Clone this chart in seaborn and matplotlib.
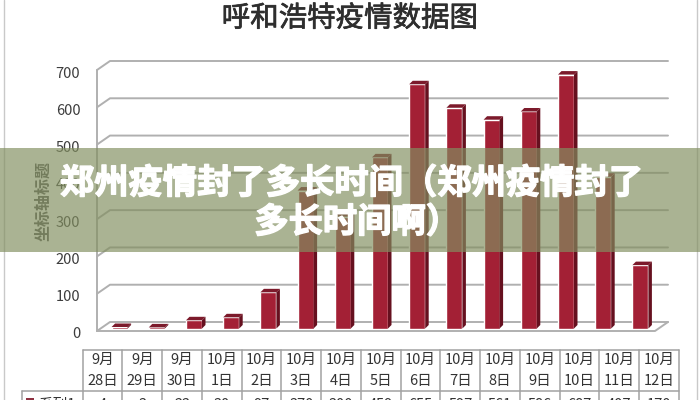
import matplotlib
matplotlib.use('Agg')
import matplotlib.pyplot as plt
import matplotlib.patheffects as pe
import seaborn as sns
from matplotlib.patches import Polygon, Rectangle
from matplotlib.transforms import ScaledTranslation

# values
dates = ['9月\n28日', '9月\n29日', '9月\n30日', '10月\n1日', '10月\n2日', '10月\n3日', '10月\n4日', '10月\n5日',
         '10月\n6日', '10月\n7日', '10月\n8日', '10月\n9日', '10月\n10日', '10月\n11日', '10月\n12日']
cases = [4, 3, 22, 30, 97, 370, 300, 459, 655, 592, 560, 582, 681, 407, 170]
table_values = ['4', '3', '22', '30', '97', '370', '300', '459', '655', '597', '561', '586', '687', '407', '170']
y_ticks = [0, 100, 200, 300, 400, 500, 600, 700]
series_name = '系列1'
chart_title = '呼和浩特疫情数据图'
y_title = '坐标轴标题'
banner_lines = ['郑州疫情封了多长时间（郑州疫情封了', '多长时间啊）']

W, H = 700, 400
CJK = ['Noto Sans CJK SC', 'DejaVu Sans']
RED, RED_SIDE, RED_TOP = '#a32035', '#66101f', '#7c1a2b'
GRID = '#b0b0b0'

sns.set_theme(style='white')
plt.rcParams['font.family'] = CJK

fig = plt.figure(figsize=(7, 4), dpi=100, facecolor='white')


def px_axes(left, right, top, bottom):
    return fig.add_axes([left / W, 1 - bottom / H, (right - left) / W, (bottom - top) / H])


# front plane of the 3d box, holds tick labels
ax = px_axes(97, 655, 70, 331)
ax.set_xlim(-0.5, 14.5)
ax.set_ylim(0, 700)
ax.patch.set_alpha(0)
ax.set_xticks([])
ax.set_yticks(y_ticks)
ax.tick_params(axis='y', length=0, pad=12, labelsize=10.5, labelcolor='#3d3d3d')
for lab in ax.get_yticklabels():
    lab.set_transform(lab.get_transform() + ScaledTranslation(0, -2 / 100, fig.dpi_scale_trans))
sns.despine(ax=ax, top=True, right=True, bottom=True, left=True)

x_per_px = 15 / 558
y_per_px = 700 / 261
dx, dy = 13 * x_per_px, 9 * y_per_px

# back wall gridlines with the slanted bit on the left, floor outline
for t in y_ticks:
    ax.plot([-0.5, -0.5 + dx, 14.5 + dx], [t, t + dy, t + dy], color=GRID, lw=1.4, clip_on=False, zorder=1)
ax.plot([-0.5, -0.5], [0, 700], color=GRID, lw=1.4, clip_on=False, zorder=1)
ax.plot([-0.5, 14.5, 14.5 + dx], [0, 0, dy], color=GRID, lw=1.4, clip_on=False, zorder=1)

# bars sit half way into the floor
ax_bar = px_axes(101, 659, 67.5, 328.5)
ax_bar.set_facecolor('none')
sns.barplot(x=list(range(len(cases))), y=cases, color=RED, saturation=1, width=0.43, ax=ax_bar, zorder=3)
ax_bar.set_xlim(-0.5, 14.5)
ax_bar.set_ylim(0, 700)
ax_bar.axis('off')

sx, sy = 3.5 * x_per_px, 3.5 * y_per_px
for bar in list(ax_bar.patches):
    x0, w, h = bar.get_x(), bar.get_width(), bar.get_height()
    ax_bar.add_patch(Polygon([(x0 + w, 0), (x0 + w + sx, sy), (x0 + w + sx, h + sy), (x0 + w, h)],
                             fc=RED_SIDE, ec='none', clip_on=False, zorder=3))
    ax_bar.add_patch(Polygon([(x0, h), (x0 + sx, h + sy), (x0 + w + sx, h + sy), (x0 + w, h)],
                             fc=RED_TOP, ec='none', clip_on=False, zorder=3))

# everything else in picture pixels
over = fig.add_axes([0, 0, 1, 1])
over.set_xlim(0, W)
over.set_ylim(H, 0)
over.axis('off')
over.patch.set_alpha(0)

over.text(350, 18.5, chart_title, ha='center', va='center', fontsize=20.5, color='#2e2e2e',
          path_effects=[pe.withStroke(linewidth=0.5, foreground='#2e2e2e')])
over.text(43, 201, y_title, rotation=90, ha='center', va='center', fontsize=11.5, color='#555555', weight='bold')

# outer frame of the screenshot
for x in (4, 696.5):
    over.plot([x, x], [0, H], color='#c9c9c9', lw=1)

# data table below the chart
left, col_w = 82.7, 39.75
top, mid, bottom = 350, 391, 412
right = left + col_w * len(dates)
tbl = '#a2a2a2'
over.plot([left, right], [top, top], color=tbl, lw=1.1)
over.plot([22, right], [mid, mid], color=tbl, lw=1.1)
over.plot([22, 22], [mid, bottom], color=tbl, lw=1.1)
for i in range(len(dates) + 1):
    over.plot([left + i * col_w] * 2, [top, bottom], color=tbl, lw=1.1)
for i, lab in enumerate(dates):
    cx = left + (i + 0.5) * col_w
    m, d = lab.split('\n')
    over.text(cx, 360, m, ha='center', va='center', fontsize=10.5, color='#333333')
    over.text(cx, 380.5, d, ha='center', va='center', fontsize=10.5, color='#333333')
    over.text(cx, 405, table_values[i], ha='center', va='center', fontsize=10.5, color='#333333')
over.add_patch(Rectangle((26, 398), 8, 8, fc='#8e3040', ec='none'))
over.text(39, 405, series_name, ha='left', va='center', fontsize=10.5, color='#333333')
over.set_ylim(H, 0)

# banner across the middle
thick = [pe.withStroke(linewidth=1.0, foreground='white')]
over.add_patch(Rectangle((0, 148), W, 104, fc='#828f60', alpha=0.68, ec='none', zorder=5))
over.text(351, 183, banner_lines[0], ha='center', va='center', fontsize=24.7, weight='bold', color='white',
          zorder=6, path_effects=thick)
over.text(357, 222, banner_lines[1], ha='center', va='center', fontsize=24.7, weight='bold', color='white',
          zorder=6, path_effects=thick)

fig.savefig('out.png', dpi=100)
